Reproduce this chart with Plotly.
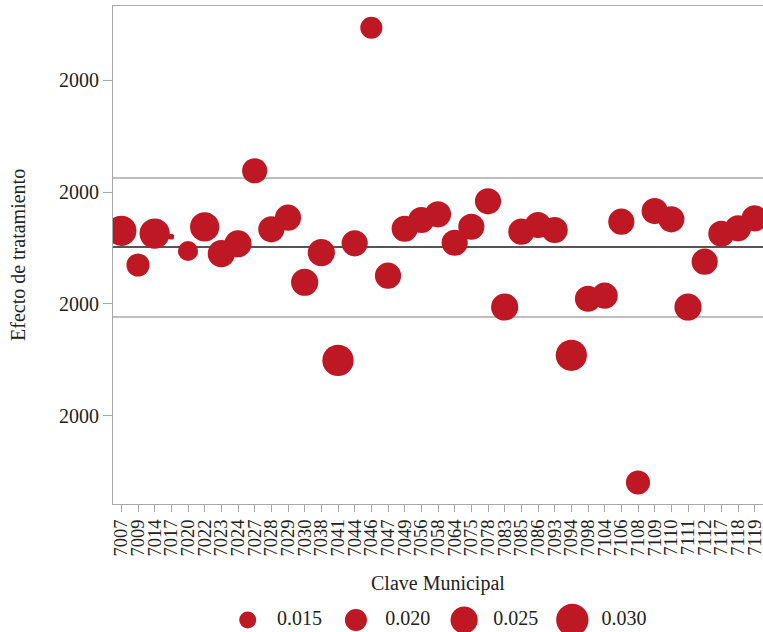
import plotly.graph_objects as go

# ---- data ----
municipios = ["7007", "7009", "7014", "7017", "7020", "7022", "7023", "7024", "7027", "7028",
              "7029", "7030", "7038", "7041", "7044", "7046", "7047", "7049", "7056", "7058",
              "7064", "7075", "7078", "7083", "7085", "7086", "7093", "7094", "7098", "7104",
              "7106", "7108", "7109", "7110", "7111", "7112", "7117", "7118", "7119"]
efecto = [1.654, 1.348, 1.629, 1.601, 1.473, 1.688, 1.449, 1.538, 2.190, 1.667,
          1.771, 1.194, 1.458, 0.496, 1.542, 3.467, 1.253, 1.672, 1.750, 1.801,
          1.547, 1.690, 1.917, 0.973, 1.646, 1.705, 1.661, 0.542, 1.047, 1.074,
          1.735, -0.594, 1.830, 1.756, 0.973, 1.378, 1.627, 1.676, 1.765]
peso = [0.028, 0.021, 0.028, 0.004, 0.018, 0.027, 0.025, 0.025, 0.023, 0.024,
        0.024, 0.025, 0.025, 0.029, 0.024, 0.020, 0.024, 0.024, 0.024, 0.024,
        0.024, 0.024, 0.024, 0.025, 0.024, 0.024, 0.024, 0.029, 0.024, 0.024,
        0.024, 0.022, 0.024, 0.024, 0.025, 0.024, 0.024, 0.024, 0.024]
media = 1.509
limite_sup = 2.125
limite_inf = 0.884
ytick_vals = [0, 1, 2, 3]
ytick_text = ["2000", "2000", "2000", "2000"]
leyenda_vals = [0.015, 0.020, 0.025, 0.030]
leyenda_text = ["0.015", "0.020", "0.025", "0.030"]

# ---- style ----
ROJO = "#be1824"
FONT = "Liberation Serif"
TXT = "#222222"
GRIS = "#a8a8a8"

def diam(v):
    # linear size scale (pixel diameter)
    return 17 + (v - 0.015) * 1020

fig = go.Figure()

fig.add_trace(go.Scatter(
    x=municipios, y=efecto, mode="markers",
    marker=dict(color=ROJO, size=[diam(v) for v in peso], line=dict(width=0), opacity=1),
    xaxis="x", yaxis="y", showlegend=False, cliponaxis=True,
))

# size legend drawn on its own small axis
idx = list(range(len(leyenda_vals)))
fig.add_trace(go.Scatter(
    x=idx, y=[0] * len(idx), mode="markers",
    marker=dict(color=ROJO, size=[diam(v) for v in leyenda_vals], line=dict(width=0), opacity=1),
    xaxis="x2", yaxis="y2", showlegend=False, cliponaxis=False, hoverinfo="skip",
))
fig.add_trace(go.Scatter(
    x=[i + 0.27 for i in idx], y=[0] * len(idx), mode="text", text=leyenda_text,
    textposition="middle right", textfont=dict(family=FONT, size=20, color=TXT),
    xaxis="x2", yaxis="y2", showlegend=False, cliponaxis=False, hoverinfo="skip",
))

shapes = []
for yv, col, w in [(limite_sup, GRIS, 1.5), (limite_inf, GRIS, 1.5), (media, "#555555", 2)]:
    shapes.append(dict(type="line", xref="paper", x0=0, x1=1, yref="y", y0=yv, y1=yv,
                       line=dict(color=col, width=w), layer="below"))

W, H = 763, 632
fig.update_layout(
    width=W, height=H, template="none",
    margin=dict(l=113, r=0, t=0, b=0),
    paper_bgcolor="white", plot_bgcolor="white",
    font=dict(family=FONT, size=20, color=TXT),
    shapes=shapes,
    xaxis=dict(domain=[0, 1], anchor="y", type="category", categoryorder="array",
               categoryarray=municipios, range=[-0.5, len(municipios) - 0.5],
               tickmode="linear", tick0=0, dtick=1,
               showgrid=False, zeroline=False, showline=True, linecolor=GRIS, linewidth=1.2,
               mirror=True, ticks="outside", ticklen=7, tickcolor=GRIS, tickwidth=1,
               tickangle=-90, tickfont=dict(family=FONT, size=18.5, color=TXT), automargin=False),
    yaxis=dict(domain=[1 - 504 / H, 1 - 6 / H], anchor="x", range=[-0.786, 3.661],
               tickvals=ytick_vals, ticktext=ytick_text, showgrid=False, zeroline=False,
               showline=True, linecolor=GRIS, linewidth=1.2, ticks="outside", ticklen=9,
               tickcolor=GRIS, tickwidth=1, tickfont=dict(family=FONT, size=20, color=TXT),
               automargin=False),
    xaxis2=dict(domain=[0, 1], anchor="y2", range=[-1.245, 4.762], visible=False),
    yaxis2=dict(domain=[0, 24 / H], anchor="x2", range=[-1, 1], visible=False),
    annotations=[
        dict(text="Clave Municipal", xref="paper", yref="paper", x=0.5, y=1 - 583 / H,
             xanchor="center", yanchor="middle", showarrow=False,
             font=dict(family=FONT, size=20, color=TXT)),
        dict(text="Efecto de tratamiento", xref="paper", yref="paper", x=(18 - 113) / 650,
             y=1 - 255 / H, xanchor="center", yanchor="middle", textangle=-90, showarrow=False,
             font=dict(family=FONT, size=20, color=TXT)),
    ],
)

fig.write_html("out.html", config={"displayModeBar": False},
               post_script="document.body.style.margin='0';document.body.style.overflow='hidden';")
